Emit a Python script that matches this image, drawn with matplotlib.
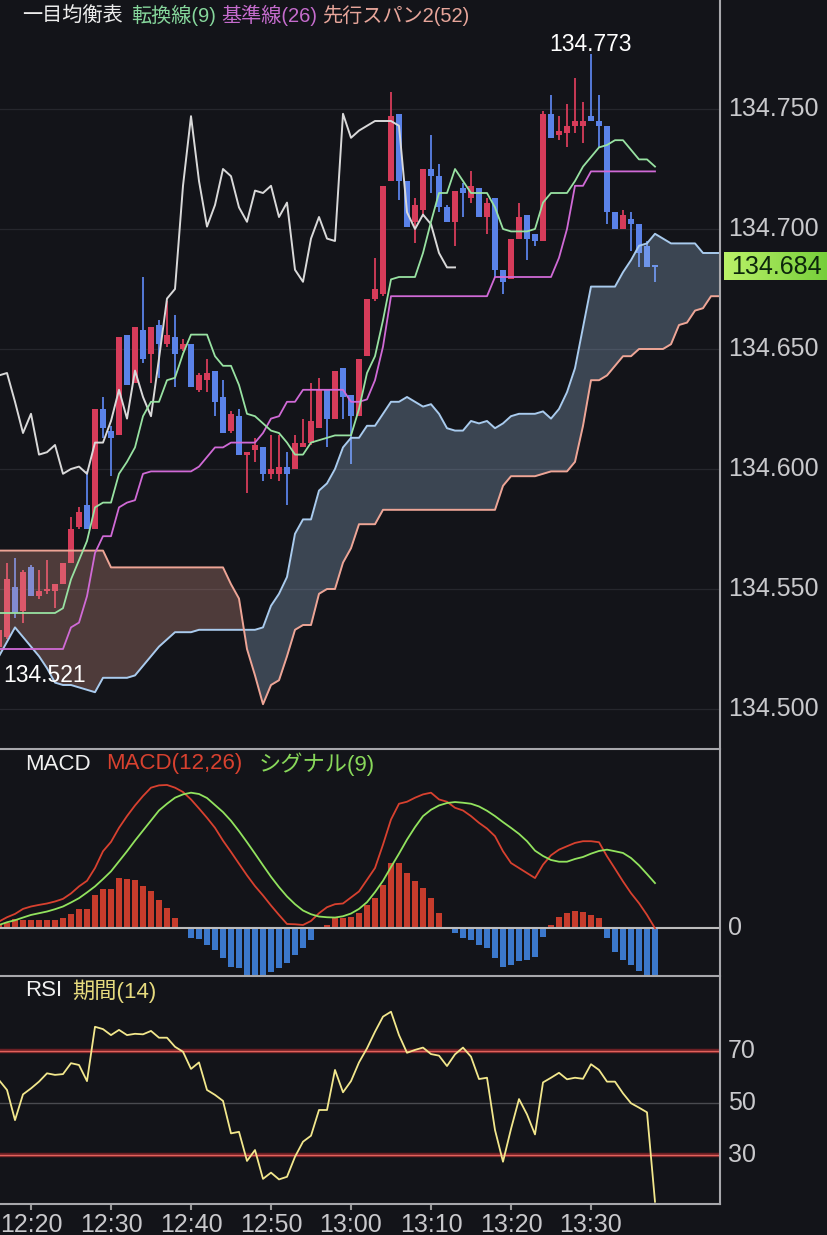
import numpy as np
import matplotlib
matplotlib.use("Agg")
import matplotlib.pyplot as plt
from matplotlib.lines import Line2D

# ---------------- data ----------------
# candle time in minutes after 12:20 (12:16 ... 13:38, 1-minute candles)
minutes = np.arange(-4, 79)

opens = [134.526, 134.530, 134.551, 134.541, 134.559, 134.547, 134.549, 134.549, 134.552, 134.561,
         134.576, 134.585, 134.575, 134.625, 134.616, 134.614, 134.656, 134.636, 134.658, 134.648,
         134.660, 134.652, 134.655, 134.650, 134.652, 134.633, 134.637, 134.641, 134.630, 134.616,
         134.622, 134.606, 134.608, 134.609, 134.598, 134.598, 134.601, 134.600, 134.609, 134.611,
         134.617, 134.633, 134.621, 134.642, 134.631, 134.622, 134.647, 134.671, 134.673, 134.720,
         134.748, 134.720, 134.703, 134.708, 134.725, 134.722, 134.709, 134.703, 134.717, 134.713,
         134.717, 134.705, 134.713, 134.683, 134.679, 134.696, 134.706, 134.698, 134.695, 134.748,
         134.739, 134.740, 134.743, 134.743, 134.747, 134.745, 134.743, 134.707, 134.700, 134.704,
         134.702, 134.693, 134.685]
highs = [134.534, 134.561, 134.563, 134.558, 134.560, 134.558, 134.562, 134.552, 134.561, 134.580,
         134.584, 134.599, 134.625, 134.630, 134.618, 134.655, 134.656, 134.659, 134.680, 134.659,
         134.662, 134.670, 134.664, 134.654, 134.652, 134.640, 134.646, 134.641, 134.637, 134.624,
         134.625, 134.607, 134.613, 134.609, 134.614, 134.614, 134.607, 134.614, 134.621, 134.636,
         134.638, 134.633, 134.641, 134.642, 134.631, 134.646, 134.671, 134.688, 134.718, 134.757,
         134.748, 134.720, 134.713, 134.725, 134.739, 134.727, 134.710, 134.716, 134.719, 134.724,
         134.717, 134.713, 134.713, 134.683, 134.696, 134.711, 134.706, 134.698, 134.749, 134.756,
         134.747, 134.752, 134.763, 134.753, 134.773, 134.756, 134.743, 134.707, 134.708, 134.707,
         134.702, 134.695, 134.685]
lows = [134.521, 134.529, 134.538, 134.536, 134.547, 134.546, 134.548, 134.542, 134.552, 134.561,
        134.575, 134.575, 134.575, 134.613, 134.597, 134.614, 134.635, 134.636, 134.644, 134.636,
        134.638, 134.651, 134.634, 134.649, 134.634, 134.632, 134.632, 134.622, 134.615, 134.615,
        134.606, 134.590, 134.603, 134.595, 134.596, 134.595, 134.585, 134.600, 134.609, 134.610,
        134.617, 134.609, 134.621, 134.621, 134.602, 134.622, 134.647, 134.670, 134.672, 134.720,
        134.712, 134.701, 134.694, 134.705, 134.715, 134.707, 134.703, 134.693, 134.705, 134.711,
        134.705, 134.698, 134.680, 134.673, 134.679, 134.696, 134.687, 134.693, 134.695, 134.738,
        134.737, 134.734, 134.740, 134.736, 134.745, 134.734, 134.702, 134.700, 134.700, 134.691,
        134.684, 134.684, 134.678]
closes = [134.533, 134.554, 134.540, 134.557, 134.547, 134.549, 134.550, 134.552, 134.561, 134.575,
          134.582, 134.575, 134.625, 134.617, 134.613, 134.655, 134.635, 134.659, 134.646, 134.659,
          134.652, 134.656, 134.648, 134.652, 134.634, 134.639, 134.640, 134.628, 134.615, 134.623,
          134.606, 134.607, 134.610, 134.598, 134.600, 134.601, 134.598, 134.611, 134.611, 134.620,
          134.633, 134.621, 134.641, 134.630, 134.622, 134.646, 134.671, 134.675, 134.718, 134.747,
          134.720, 134.701, 134.710, 134.725, 134.722, 134.709, 134.703, 134.716, 134.715, 134.718,
          134.705, 134.711, 134.683, 134.678, 134.696, 134.705, 134.696, 134.695, 134.748, 134.738,
          134.741, 134.743, 134.745, 134.745, 134.745, 134.743, 134.707, 134.700, 134.706, 134.702,
          134.690, 134.684, 134.684]

tenkan = [134.540] * 8 + [
    134.542, 134.554, 134.562, 134.570, 134.584, 134.586, 134.586, 134.598, 134.603, 134.609,
    134.622, 134.628, 134.628, 134.637, 134.638, 134.648, 134.656, 134.656, 134.656, 134.647,
    134.643, 134.643, 134.635, 134.623, 134.622, 134.619, 134.616, 134.615, 134.611, 134.606,
    134.606, 134.611, 134.612, 134.613, 134.614, 134.614, 134.614, 134.625, 134.640, 134.647,
    134.662, 134.679, 134.680, 134.680, 134.680, 134.690, 134.703, 134.715, 134.715, 134.725,
    134.720, 134.715, 134.715, 134.715, 134.709, 134.700, 134.699, 134.699, 134.699, 134.700,
    134.711, 134.715, 134.715, 134.715, 134.720, 134.726, 134.730, 134.734, 134.735, 134.737,
    134.737, 134.733, 134.729, 134.729, 134.726]
kijun = ([134.525] * 9 +
         [134.534, 134.536, 134.547, 134.565, 134.572, 134.572, 134.584, 134.586, 134.587, 134.598] +
         [134.599] * 6 +
         [134.601, 134.605, 134.609, 134.609] + [134.611] * 4 +
         [134.615, 134.621, 134.622, 134.628, 134.628] + [134.633] * 6 +
         [134.628, 134.628, 134.629, 134.637, 134.651] + [134.672] * 13 +
         [134.680] * 8 + [134.688, 134.700, 134.718, 134.718] + [134.724] * 9)

# cloud (leading spans), drawn ahead of price: 12:16 ... 13:46
cloud_minutes = np.arange(-4, 87)
span_a = ([134.522, 134.528, 134.534, 134.530, 134.526, 134.522, 134.517, 134.511, 134.510, 134.510,
           134.509, 134.508, 134.507, 134.513, 134.513, 134.513, 134.513, 134.514, 134.518, 134.522,
           134.526, 134.529, 134.532, 134.532, 134.532, 134.533] + [134.533] * 7 +
          [134.534, 134.543, 134.548, 134.555, 134.573, 134.579, 134.579, 134.591, 134.594, 134.600,
           134.609, 134.613, 134.613, 134.618, 134.618, 134.623, 134.628, 134.628, 134.630, 134.628,
           134.626, 134.627, 134.623, 134.617, 134.616, 134.616, 134.620, 134.619, 134.620, 134.617,
           134.619, 134.622, 134.623, 134.623, 134.623, 134.624, 134.621, 134.625, 134.632, 134.642,
           134.659] + [134.676] * 4 +
          [134.682, 134.687, 134.693, 134.694, 134.698, 134.696, 134.694] + [134.694] * 3 +
          [134.690] * 3)
span_b = ([134.566] * 14 + [134.559] * 15 +
          [134.552, 134.546, 134.525, 134.514, 134.502, 134.510, 134.512, 134.522, 134.533, 134.535,
           134.535, 134.548, 134.550, 134.550, 134.561, 134.567, 134.577, 134.577, 134.577] +
          [134.583] * 15 + [134.593] + [134.597] * 4 + [134.598] + [134.599] * 3 +
          [134.603, 134.618, 134.637, 134.637, 134.639, 134.643, 134.647, 134.647] +
          [134.650] * 4 + [134.652, 134.660, 134.661, 134.666, 134.667, 134.672, 134.672])

# MACD panel (units of 0.0001)
macd = [6.7, 11.0, 14.3, 19.3, 21.7, 23.3, 24.7, 26.7, 29.3, 34.7,
        41.7, 47.3, 60.0, 76.7, 86.0, 100.0, 111.7, 122.3, 131.7, 140.0,
        142.3, 142.7, 140.0, 135.7, 128.3, 119.3, 110.0, 100.0, 87.3, 76.0,
        64.3, 52.7, 42.0, 32.7, 22.7, 13.3, 4.3, 4.0, 3.3, 7.3,
        15.0, 21.0, 24.0, 24.7, 30.7, 36.7, 48.3, 60.0, 83.3, 108.3,
        124.0, 126.0, 130.0, 133.3, 135.0, 128.3, 126.0, 120.0, 117.3, 111.7,
        105.0, 99.3, 91.7, 76.7, 65.0, 60.0, 55.0, 50.0, 63.3, 72.7,
        78.3, 81.7, 85.0, 86.7, 86.7, 85.7, 71.7, 59.3, 46.7, 35.0,
        25.0, 13.3, 0.0]
signal = [3.3, 6.0, 8.0, 10.7, 13.3, 15.0, 16.7, 19.0, 21.7, 25.7,
          30.0, 35.7, 41.7, 49.0, 56.7, 66.7, 76.7, 87.3, 97.3, 107.3,
          117.3, 124.0, 130.0, 133.3, 135.0, 133.7, 129.7, 122.7, 115.7, 107.0,
          96.7, 85.7, 74.3, 62.7, 51.3, 41.0, 31.7, 24.0, 17.7, 14.0,
          11.7, 11.0, 10.7, 12.0, 14.7, 19.3, 26.0, 36.0, 47.3, 61.0,
          74.3, 88.3, 100.7, 111.7, 118.0, 122.3, 124.7, 125.7, 125.0, 124.0,
          121.3, 117.0, 111.7, 105.7, 100.0, 94.0, 86.7, 77.3, 72.0, 68.0,
          66.3, 66.3, 69.0, 71.0, 74.3, 77.0, 78.3, 76.7, 75.0, 70.0,
          62.7, 54.0, 45.0]
hist = [4.0, 5.0, 9.3, 8.3, 8.3, 8.3, 8.3, 8.3, 10.0, 14.0,
        19.3, 19.3, 33.3, 39.3, 39.3, 50.0, 49.0, 48.3, 41.7, 37.3,
        28.3, 20.0, 10.7, 1.7, -10.0, -11.0, -16.7, -21.7, -30.0, -38.3,
        -40.0, -46.7, -46.7, -46.7, -43.3, -40.0, -35.0, -26.7, -20.0, -11.7,
        0.7, 3.3, 10.0, 10.0, 11.7, 15.0, 23.3, 30.0, 43.3, 65.0,
        65.0, 55.0, 46.7, 40.0, 30.0, 15.0, 1.7, -5.0, -10.0, -11.7,
        -16.7, -20.0, -30.0, -38.3, -36.7, -32.7, -31.7, -28.3, -8.3, 3.3,
        11.7, 15.0, 17.3, 16.7, 13.3, 10.0, -9.3, -23.3, -31.7, -36.7,
        -42.7, -46.7, -46.7]

rsi = [58.7, 54.9, 43.3, 53.2, 55.5, 58.1, 61.3, 60.7, 61.0, 65.2,
       64.5, 58.3, 79.2, 78.3, 76.0, 78.0, 76.0, 76.5, 76.3, 77.6,
       75.0, 75.0, 71.5, 69.6, 63.0, 65.5, 54.9, 53.0, 50.7, 38.2,
       38.8, 27.6, 31.8, 20.7, 23.1, 20.5, 21.5, 29.2, 35.0, 37.3,
       47.2, 47.2, 62.6, 54.0, 58.3, 65.5, 70.9, 77.3, 83.1, 85.0,
       76.0, 69.2, 70.3, 71.2, 68.7, 68.1, 64.1, 68.6, 71.2, 67.7,
       59.1, 59.6, 39.5, 27.3, 39.9, 51.4, 45.5, 37.8, 57.8, 59.6,
       61.5, 59.0, 59.6, 59.2, 64.8, 62.6, 58.1, 58.1, 53.6, 49.8,
       48.1, 46.3, 11.9]

price_ticks = [134.500, 134.550, 134.600, 134.650, 134.700, 134.750]
time_ticks = [0, 10, 20, 30, 40, 50, 60, 70]
time_labels = ["12:20", "12:30", "12:40", "12:50", "13:00", "13:10", "13:20", "13:30"]
rsi_levels = [70, 50, 30]
chikou_shift = 25
last_price = 134.684

# ---------------- style ----------------
BG = "#131419"
RED_C = "#d63c5a"
BLUE_C = "#5a82e8"
GRID = "#26272d"
BORDER = "#a8a8ac"
LBL = "#c9c9cc"
SPAN_A_C = "#a9cbee"
SPAN_B_C = "#eea596"
plt.rcParams["font.family"] = ["Liberation Sans", "Noto Sans CJK JP", "DejaVu Sans"]

W, H = 828, 1235
fig = plt.figure(figsize=(W / 100, H / 100), dpi=100, facecolor=BG)
XR = 720.5
X0 = -3.875
X1 = X0 + XR / 8.0


def axes_px(top, bottom):
    a = fig.add_axes([0, 1 - bottom / H, XR / W, (bottom - top) / H])
    a.set_facecolor(BG)
    a.set_xlim(X0, X1)
    for s in a.spines.values():
        s.set_visible(False)
    a.tick_params(left=False, right=False, labelleft=False, bottom=False, labelbottom=False)
    return a


ax = axes_px(0, 748)
axm = axes_px(749, 975)
axr = axes_px(976, 1203)

# ----- main panel -----
ax.set_ylim(134.750 - (748 - 109) / 2400.0, 134.750 + 109 / 2400.0)
for p in price_ticks:
    ax.axhline(p, color=GRID, lw=0.9, zorder=0)
    ax.text(1 + 7.5 / XR, p, f"{p:.3f}", transform=ax.get_yaxis_transform(),
            ha="left", va="center", color=LBL, fontsize=18, clip_on=False)

# candles
c_arr = np.array(closes)
o = np.array(opens); h = np.array(highs); l = np.array(lows)
up = c_arr >= o
cols = np.where(up, RED_C, BLUE_C)
ax.vlines(minutes, l, h, colors=cols, lw=1.3, zorder=3)
body_lo = np.minimum(o, c_arr)
body_h = np.maximum(np.abs(c_arr - o), 0.0006)
ax.bar(minutes, body_h, bottom=body_lo, width=0.74, color=cols, lw=0, zorder=4)

# translucent cloud over the candles
sa = np.array(span_a)
sb = np.array(span_b)
ax.fill_between(cloud_minutes, sa, sb, where=sa >= sb, interpolate=True,
                color=SPAN_A_C, alpha=0.27, lw=0, zorder=5)
ax.fill_between(cloud_minutes, sa, sb, where=sa < sb, interpolate=True,
                color=SPAN_B_C, alpha=0.27, lw=0, zorder=5)
ax.plot(cloud_minutes, sa, color=SPAN_A_C, lw=1.4, zorder=6)
ax.plot(cloud_minutes, sb, color=SPAN_B_C, lw=1.4, zorder=6)

ax.plot(minutes[:-chikou_shift], c_arr[chikou_shift:], color="#d9d9d9", lw=1.4, zorder=7)
ax.plot(minutes, kijun, color="#d06ad6", lw=1.3, zorder=7)
ax.plot(minutes, tenkan, color="#98e2a2", lw=1.3, zorder=7)

# high / low annotations
ih = int(np.argmax(h)); il = int(np.argmin(l))
ax.annotate(f"{h[ih]:.3f}", xy=(minutes[ih], h[ih]), xytext=(0, 3), textcoords="offset pixels",
            ha="center", va="baseline", color="white", fontsize=16.5, zorder=9,
            annotation_clip=False)
ax.annotate(f"{l[il]:.3f}", xy=(minutes[il], l[il]), xytext=(4, -23), textcoords="offset pixels",
            ha="left", va="baseline", color="white", fontsize=16.5, zorder=9,
            annotation_clip=False)


def ftext(xp, yp, s, color, size):
    fig.text(xp / W, 1 - yp / H, s, color=color, fontsize=size, ha="left", va="center")


ftext(22, 15, "一目均衡表", "#ececec", 14.5)
ftext(131, 15, "転換線(9)", "#86d79c", 14.5)
ftext(221, 15, "基準線(26)", "#c56ccd", 14.5)
ftext(322, 15, "先行スパン2(52)", "#e8a69b", 14.5)

# current price box with gradient
axb = fig.add_axes([724 / W, 1 - 280 / H, (W - 724) / W, 28 / H])
grad = np.linspace(0, 1, 64)
left_c = np.array([186, 242, 104]) / 255.0
right_c = np.array([118, 206, 58]) / 255.0
img = left_c[None, None, :] * (1 - grad[None, :, None]) + right_c[None, None, :] * grad[None, :, None]
axb.imshow(img, aspect="auto", extent=[0, 1, 0, 1])
axb.set_axis_off()
fig.text(731 / W, 1 - 267 / H, f"{last_price:.3f}", color="#0c260c", fontsize=18,
         ha="left", va="center")

# ----- MACD panel -----
axm.set_ylim(-46.5, 178.5)
hcols = np.where(np.array(hist) >= 0, "#c63c2c", "#3b78cc")
axm.bar(minutes, hist, width=0.8, color=hcols, lw=0, zorder=2)
axm.axhline(0, color="#bdbdbd", lw=1.5, zorder=3)
axm.plot(minutes, macd, color="#d8412f", lw=1.3, zorder=4)
axm.plot(minutes, signal, color="#92e35e", lw=1.3, zorder=4)
axm.text(1 + 7.5 / XR, 0, "0", transform=axm.get_yaxis_transform(), ha="left", va="center",
         color=LBL, fontsize=18, clip_on=False)
ftext(25, 764, "MACD", "#f0f0f0", 16)
ftext(106, 764, "MACD(12,26)", "#d8412f", 16)
ftext(259, 764, "シグナル(9)", "#88d85a", 16)

# ----- RSI panel -----
axr.set_ylim(50 - (1203 - 1102.7) / 2.6, 50 + (1102.7 - 976) / 2.6)
axr.axhline(50, color="#4a4b50", lw=1.0, zorder=1)
for lv in (70, 30):
    axr.axhline(lv, color="#6b1f24", lw=3.2, zorder=1)
    axr.axhline(lv, color="#e2625c", lw=1.0, zorder=2)
axr.plot(minutes, rsi, color="#f2e78c", lw=1.3, zorder=4)
for lv in rsi_levels:
    axr.text(1 + 7.5 / XR, lv, str(lv), transform=axr.get_yaxis_transform(), ha="left",
             va="center", color=LBL, fontsize=18, clip_on=False)
ftext(25, 991, "RSI", "#f0f0f0", 16)
ftext(72, 991, "期間(14)", "#e6da7e", 16)

axr.set_xticks(time_ticks)
axr.set_xticklabels(time_labels)
axr.tick_params(bottom=True, labelbottom=True, direction="out", length=5, width=1.5,
                color="#9a9a9a", labelcolor=LBL, labelsize=18, pad=2)


def hline_px(yp, x1=XR):
    fig.add_artist(Line2D([0, x1 / W], [1 - yp / H] * 2, color=BORDER, lw=1.5))


hline_px(748.5)
hline_px(975.5)
hline_px(1203.5)
fig.add_artist(Line2D([XR / W] * 2, [1 - 1203.5 / H, 1], color=BORDER, lw=1.5))

fig.savefig("out.png", dpi=100, facecolor=BG)
